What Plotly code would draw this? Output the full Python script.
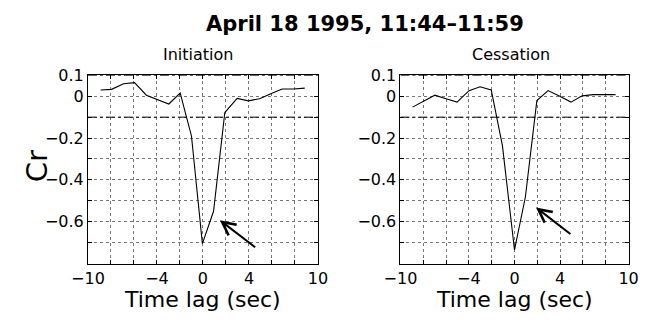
import plotly.graph_objects as go

# ---- data ----
lag_init = [-8.9, -7.95, -6.9, -5.95, -4.92, -3.93, -2.97, -1.98, -1.0, -0.05, 0.92, 1.9, 2.97, 3.95, 4.92, 5.9, 6.88, 7.87, 8.85]
cr_init = [0.030, 0.033, 0.060, 0.065, 0.005, -0.016, -0.037, 0.015, -0.19, -0.705, -0.55, -0.078,
           -0.010, -0.022, -0.012, 0.012, 0.035, 0.035, 0.039]

lag_cess = [-8.94, -7.96, -6.98, -6.0, -5.03, -3.99, -3.02, -2.04, -1.06, 0.0, 0.95, 1.96, 2.94, 3.97, 4.95, 5.93, 6.9, 7.88, 8.86]
cr_cess = [-0.052, -0.024, 0.005, -0.012, -0.028, 0.027, 0.045, 0.030, -0.236, -0.735, -0.483, -0.021,
           0.027, 0.000, -0.028, 0.002, 0.008, 0.008, 0.008]

sig_levels = [0.1, -0.1]
x_limits = [-10, 10]
y_limits = [-0.8, 0.1]

x_tickvals = [-10, -8, -6, -4, -2, 0, 2, 4, 6, 8, 10]
x_ticktext = ["\u221210", " ", " ", "\u22124", " ", "0", " ", "4", " ", " ", "10"]
y_tickvals = [0.1, 0, -0.1, -0.2, -0.3, -0.4, -0.5, -0.6, -0.7, -0.8]
y_ticktext = ["0.1", "0", " ", "\u22120.2", " ", "\u22120.4", " ", "\u22120.6", " ", " "]

# arrows (tail -> head) in data units
arrow_init = dict(tail=(4.67, -0.728), head=(1.47, -0.593))
arrow_cess = dict(tail=(5.03, -0.664), head=(1.88, -0.532))

title = "April 18 1995, 11:44\u201311:59"
panel_titles = ["Initiation", "Cessation"]
FONT = "DejaVu Sans"

W, H = 652, 322

fig = go.Figure()

panels = [("x", "y", lag_init, cr_init, arrow_init),
          ("x2", "y2", lag_cess, cr_cess, arrow_cess)]

for xa, ya, lx, cy, arr in panels:
    for s in sig_levels:
        fig.add_trace(go.Scatter(x=x_limits, y=[s, s], mode="lines", xaxis=xa, yaxis=ya,
                                 line=dict(color="black", width=1, dash="dashdot"),
                                 showlegend=False, hoverinfo="skip"))
    fig.add_trace(go.Scatter(x=lx, y=cy, mode="lines", xaxis=xa, yaxis=ya,
                             line=dict(color="black", width=1.1), showlegend=False))
    fig.add_annotation(x=arr["head"][0], y=arr["head"][1], ax=arr["tail"][0], ay=arr["tail"][1],
                       xref=xa, yref=ya, axref=xa, ayref=ya, text="", showarrow=True,
                       arrowhead=5, arrowsize=1.3, arrowwidth=2, arrowcolor="black")

axis_common = dict(showline=True, linecolor="black", linewidth=1, mirror="ticks",
                   ticks="inside", ticklen=4, tickcolor="black", zeroline=False,
                   showgrid=True, gridcolor="#777", gridwidth=1, griddash="dot",
                   tickfont=dict(family=FONT, size=16, color="black"))

def px_x(p):
    return p / W

def px_y(p):
    return 1 - p / H

fig.update_layout(
    width=W, height=H, margin=dict(l=0, r=0, t=0, b=0),
    paper_bgcolor="white", plot_bgcolor="white",
    font=dict(family=FONT, color="black"),
    xaxis=dict(domain=[px_x(74), px_x(314)], range=x_limits, anchor="y",
               tickvals=x_tickvals, ticktext=x_ticktext, **axis_common),
    yaxis=dict(domain=[px_y(270.5), px_y(70.5)], range=y_limits, anchor="x",
               tickvals=y_tickvals, ticktext=y_ticktext, **axis_common),
    xaxis2=dict(domain=[px_x(400), px_x(638)], range=x_limits, anchor="y2",
                tickvals=x_tickvals, ticktext=x_ticktext, **axis_common),
    yaxis2=dict(domain=[px_y(270.5), px_y(70.5)], range=y_limits, anchor="x2",
                tickvals=y_tickvals, ticktext=y_ticktext, **axis_common),
)

def text_ann(txt, cx, cy, size, bold=False, angle=0):
    fig.add_annotation(x=px_x(cx), y=px_y(cy), xref="paper", yref="paper",
                       text=("<b>%s</b>" % txt) if bold else txt, showarrow=False,
                       xanchor="center", yanchor="middle", textangle=angle,
                       font=dict(family=FONT, size=size, color="black"))

text_ann(title, 363, 16, 21, bold=True)
text_ann(panel_titles[0], 189, 48, 16)
text_ann(panel_titles[1], 515, 48, 16)
text_ann("Time lag (sec)", 194, 309, 22)
text_ann("Time lag (sec)", 519, 309, 22)
text_ann("Cr", 21, 167, 29, angle=-90)

fig.write_html("out.html")
